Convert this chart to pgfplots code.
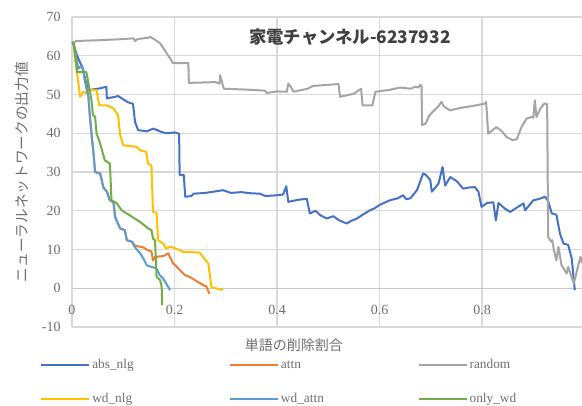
\documentclass[border=0pt]{standalone}
\usepackage{pgfplots}
\pgfplotsset{compat=1.18}
\usepackage{fontspec}
\setmainfont{Liberation Serif}
\newfontfamily\jp{Noto Sans CJK JP}

\definecolor{cAbs}{HTML}{4472C4}
\definecolor{cAttn}{HTML}{ED7D31}
\definecolor{cRand}{HTML}{A5A5A5}
\definecolor{cWdNlg}{HTML}{FFC000}
\definecolor{cWdAttn}{HTML}{5B9BD5}
\definecolor{cOnly}{HTML}{70AD47}
\definecolor{gridgray}{HTML}{D9D9D9}
\definecolor{zerogray}{HTML}{C8C8C8}
\definecolor{labelgray}{HTML}{6E6E6E}
\definecolor{titlegray}{HTML}{404040}

\begin{document}
\begin{tikzpicture}
\begin{axis}[
  scale only axis,
  width=382.5pt, height=232.5pt,
  xmin=0, xmax=0.995, ymin=-10, ymax=70,
  xtick={0,0.2,0.4,0.6,0.8},
  ytick={-10,0,10,20,30,40,50,60,70},
  axis x line=middle,
  axis y line=left,
  x axis line style={draw=zerogray, line width=0.9pt, -},
  y axis line style={draw=none},
  hide obscured x ticks=false,
  major tick length=0pt,
  grid=major,
  major grid style={draw=gridgray, line width=0.9pt},
  /pgf/number format/assume math mode=true,
  tick label style={font=\fontsize{10.5}{12}\selectfont, text=labelgray},
  yticklabel style={xshift=-5pt},
  xticklabel style={yshift=-9.5pt},
  every axis plot/.append style={line width=1.5pt, line join=round, no markers},
  clip mode=individual,
  legend columns=3,
  legend cell align=left,
  legend image code/.code={\draw[#1] (0pt,0pt) -- (36pt,0pt);},
  legend style={
    at={(axis description cs:-0.0627,-0.1774)}, anchor=west,
    draw=none, fill=none, inner sep=0pt,
    font=\fontsize{10}{12}\selectfont, text=labelgray,
    nodes={inner xsep=1.5pt, inner ysep=2pt},
    row sep=12.5pt, column sep=0pt,
    /tikz/every even column/.append style={text width=101pt},
  },
]
\coordinate (O) at (rel axis cs:0,0);

% abs_nlg
\addplot[cAbs] coordinates {
(0.000,63.5) (0.003,63.0) (0.010,60.0) (0.020,57.0) (0.028,53.0) (0.031,51.1)
(0.055,51.6) (0.064,51.9) (0.067,52.0) (0.068,49.0) (0.084,49.4) (0.090,49.6)
(0.103,48.5) (0.109,48.0) (0.119,47.6) (0.123,42.9) (0.129,40.8) (0.146,40.5)
(0.159,41.2) (0.175,40.3) (0.185,40.0) (0.200,40.2) (0.209,39.9) (0.210,29.2)
(0.218,29.2) (0.221,23.6) (0.233,23.8) (0.237,24.4) (0.260,24.6) (0.280,25.0)
(0.295,25.3) (0.310,24.6) (0.330,24.8) (0.350,24.5) (0.367,24.4) (0.377,23.8)
(0.400,24.0) (0.412,24.2) (0.418,26.3) (0.422,22.3) (0.440,22.8) (0.458,23.1)
(0.464,19.3) (0.475,20.0) (0.485,18.8) (0.497,18.0) (0.510,18.6) (0.520,17.6)
(0.536,16.7) (0.545,17.4) (0.556,18.0) (0.565,18.8) (0.581,20.1) (0.590,20.6)
(0.600,21.5) (0.620,22.7) (0.635,23.2) (0.646,24.0) (0.652,23.0) (0.660,23.2)
(0.668,24.5) (0.673,25.3) (0.685,29.6) (0.690,29.3) (0.699,27.9) (0.702,24.9)
(0.715,27.0) (0.723,31.3) (0.728,26.5) (0.738,28.7) (0.751,27.6) (0.763,25.7)
(0.775,26.0) (0.786,26.1) (0.793,24.9) (0.799,21.0) (0.810,22.0) (0.822,22.2)
(0.827,17.5) (0.832,22.0) (0.845,20.5) (0.855,19.7) (0.870,21.0) (0.881,21.9)
(0.884,20.1) (0.900,22.7) (0.910,23.0) (0.923,23.6) (0.929,22.5) (0.936,19.3)
(0.945,19.0) (0.952,14.1) (0.959,11.5) (0.968,11.2) (0.975,7.7) (0.981,-0.5)
};
\addlegendentry{abs\_nlg}

% attn
\addplot[cAttn] coordinates {
(0.000,63.5) (0.003,63.2) (0.012,56.7) (0.019,57.5) (0.022,56.3) (0.025,53.7)
(0.032,49.4) (0.035,44.2) (0.038,39.9) (0.042,34.8) (0.045,30.0) (0.055,29.6)
(0.061,26.1) (0.068,24.9) (0.074,22.7) (0.081,22.2) (0.084,18.4) (0.094,15.4)
(0.103,15.0) (0.107,12.4) (0.117,12.0) (0.123,11.0) (0.133,10.7) (0.140,10.5)
(0.145,10.0) (0.155,9.5) (0.158,7.2) (0.162,8.1) (0.178,8.3) (0.188,9.0)
(0.197,6.4) (0.202,5.9) (0.211,4.6) (0.220,3.4) (0.230,2.9) (0.246,1.6)
(0.256,0.8) (0.262,0.5) (0.268,-1.4)
};
\addlegendentry{attn}

% random
\addplot[cRand] coordinates {
(0.000,63.5) (0.003,63.3) (0.008,63.8) (0.050,64.0) (0.100,64.3) (0.120,64.5)
(0.123,63.8) (0.128,64.3) (0.150,64.7) (0.152,64.9) (0.160,64.3) (0.172,63.2)
(0.178,62.0) (0.185,60.6) (0.193,59.0) (0.197,58.1) (0.227,58.1) (0.228,53.0)
(0.280,53.2) (0.288,52.8) (0.289,55.0) (0.296,51.5) (0.350,51.2) (0.376,51.0)
(0.380,50.4) (0.400,50.8) (0.419,50.7) (0.422,52.8) (0.427,52.0) (0.432,50.7)
(0.460,51.5) (0.470,52.2) (0.500,52.5) (0.520,52.7) (0.523,49.4) (0.550,50.2)
(0.564,51.5) (0.567,47.2) (0.586,47.2) (0.592,50.7) (0.620,51.2) (0.640,51.8)
(0.660,51.5) (0.670,52.0) (0.676,51.8) (0.679,52.5) (0.682,52.2) (0.683,42.1)
(0.690,42.5) (0.697,44.6) (0.715,47.0) (0.721,48.1) (0.725,47.0) (0.737,45.9)
(0.760,46.6) (0.780,47.0) (0.800,47.5) (0.806,47.7) (0.808,48.1) (0.812,39.9)
(0.828,41.6) (0.839,40.5) (0.848,39.0) (0.860,38.2) (0.868,38.5) (0.877,41.6)
(0.887,43.8) (0.897,44.2) (0.900,44.0) (0.903,48.5) (0.906,44.2) (0.914,46.4)
(0.922,47.7) (0.927,47.5) (0.929,13.2) (0.935,12.0) (0.937,12.4) (0.940,10.0)
(0.945,7.2) (0.949,10.7) (0.955,6.0) (0.965,3.8) (0.968,5.5) (0.979,1.2)
(0.987,5.5) (0.992,8.1) (0.995,6.5)
};
\addlegendentry{random}

% wd_nlg
\addplot[cWdNlg] coordinates {
(0.000,63.5) (0.003,63.2) (0.008,57.0) (0.010,55.4) (0.016,49.4) (0.022,50.7)
(0.030,50.3) (0.035,51.1) (0.048,51.1) (0.053,47.2) (0.068,47.2) (0.081,46.4)
(0.090,44.6) (0.094,39.5) (0.100,36.9) (0.126,36.5) (0.133,35.6) (0.145,35.2)
(0.148,32.2) (0.155,31.7) (0.158,19.7) (0.165,19.5) (0.168,12.4) (0.178,11.5)
(0.184,10.2) (0.191,10.7) (0.198,10.5) (0.217,9.4) (0.250,9.2) (0.253,8.5)
(0.266,6.4) (0.272,0.3) (0.289,-0.3) (0.295,-0.4)
};
\addlegendentry{wd\_nlg}

% wd_attn
\addplot[cWdAttn] coordinates {
(0.000,63.5) (0.003,63.2) (0.012,56.7) (0.019,57.5) (0.022,56.3) (0.025,53.7)
(0.032,49.4) (0.035,44.2) (0.038,39.9) (0.042,34.8) (0.045,30.0) (0.055,29.6)
(0.061,26.1) (0.068,24.9) (0.074,22.7) (0.081,22.2) (0.084,18.4) (0.094,15.4)
(0.103,15.0) (0.107,12.4) (0.117,12.0) (0.123,10.5) (0.133,9.0) (0.140,7.5)
(0.146,5.9) (0.165,5.1) (0.171,3.4) (0.178,2.5) (0.188,0.3) (0.191,-0.5)
};
\addlegendentry{wd\_attn}

% only_wd
\addplot[cOnly] coordinates {
(0.000,63.5) (0.003,63.2) (0.006,60.1) (0.010,55.8) (0.028,55.8) (0.031,53.7)
(0.038,48.5) (0.041,44.6) (0.045,44.3) (0.048,39.9) (0.055,37.3) (0.064,33.0)
(0.074,32.2) (0.077,22.7) (0.087,22.0) (0.097,20.1) (0.113,18.8) (0.133,17.1)
(0.149,15.4) (0.155,15.0) (0.158,12.8) (0.162,12.4) (0.165,2.9) (0.172,2.1)
(0.175,0.3) (0.176,-4.4)
};
\addlegendentry{only\_wd}

\node[font=\jp\bfseries\fontsize{13}{15}\selectfont, text=titlegray]
  at (axis description cs:0.545,0.935) {家電チャンネル-6237932};
\node[font=\jp\fontsize{10.5}{12}\selectfont, text=labelgray]
  at (axis description cs:0.435,-0.058) {単語の削除割合};
\node[font=\jp\fontsize{11}{13}\selectfont, text=labelgray, rotate=90]
  at (axis description cs:-0.098,0.5) {ニューラルネットワークの出力値};
\end{axis}
\pgfresetboundingbox
\path (O) ++(-54pt,-59.25pt) rectangle ++(436.5pt,304.5pt);
\end{tikzpicture}
\end{document}
